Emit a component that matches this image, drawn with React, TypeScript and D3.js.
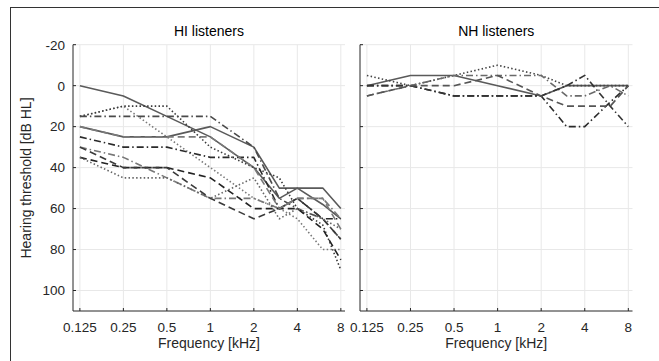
import React from "react";
import * as d3 from "d3";

// Audiometric test frequencies in kHz
const freqs = [0.125, 0.25, 0.5, 1, 2, 3, 4, 6, 8];
const freqTicks = [0.125, 0.25, 0.5, 1, 2, 4, 8];
const freqTickLabels = ["0.125", "0.25", "0.5", "1", "2", "4", "8"];
const dbTicks = [-20, 0, 20, 40, 60, 80, 100];

// Hearing-impaired listeners: thresholds in dB HL per frequency
const hiSolidA = [0, 5, 15, 25, 40, 55, 50, 58, 65];
const hiSolidB = [20, 25, 25, 20, 30, 50, 50, 50, 60];
const hiDotLight = [15, 10, 25, 40, 55, 60, 65, 80, 80];
const hiDotDark = [15, 10, 10, 30, 40, 45, 60, 68, 90];
const hiDashDotA = [15, 15, 15, 15, 30, 55, 60, 65, 75];
const hiDashDotB = [25, 30, 30, 35, 35, 60, 55, 65, 65];
const hiDashDotGray = [30, 35, 45, 55, 55, 60, 55, 55, 65];
const hiDashA = [35, 40, 40, 45, 60, 60, 60, 70, 85];
const hiDashB = [30, 40, 40, 55, 65, 60, 55, 65, 75];
const hiDotMid = [35, 45, 45, 55, 45, 65, 60, 65, 70];
const hiDashGray = [20, 25, 25, 25, 40, 60, 55, 55, 70];

// Normal-hearing listeners
const nhSolid = [0, -5, -5, 0, 5, 0, 0, 0, 0];
const nhDot = [-5, 0, -5, -10, -5, 0, 0, 0, 0];
const nhDashDotGray = [5, 0, -5, -5, -5, 5, 5, 0, 5];
const nhDashDotA = [0, 0, 5, 5, 5, 20, 20, 8, 0];
const nhDashDotB = [0, 0, 5, 5, 5, 0, -5, 10, 20];
const nhDash = [5, 0, 0, -5, 5, 10, 10, 10, 0];

const DOT = "1.5 2.3";
const DASH = "7 4";
const DASHDOT = "7 3 1.5 3";

type Series = { values: number[]; color: string; dash?: string };

const hiSeries: Series[] = [
  { values: hiSolidA, color: "#5a5a5a" },
  { values: hiSolidB, color: "#5a5a5a" },
  { values: hiDotLight, color: "#7a7a7a", dash: DOT },
  { values: hiDotDark, color: "#3a3a3a", dash: DOT },
  { values: hiDashDotA, color: "#4a4a4a", dash: DASHDOT },
  { values: hiDashDotB, color: "#2a2a2a", dash: DASHDOT },
  { values: hiDashDotGray, color: "#777777", dash: DASHDOT },
  { values: hiDashA, color: "#222222", dash: DASH },
  { values: hiDashB, color: "#3a3a3a", dash: DASH },
  { values: hiDotMid, color: "#666666", dash: DOT },
  { values: hiDashGray, color: "#7a7a7a", dash: DASH },
];

const nhSeries: Series[] = [
  { values: nhSolid, color: "#5a5a5a" },
  { values: nhDot, color: "#444444", dash: DOT },
  { values: nhDashDotGray, color: "#6a6a6a", dash: DASHDOT },
  { values: nhDashDotA, color: "#2a2a2a", dash: DASHDOT },
  { values: nhDashDotB, color: "#333333", dash: DASHDOT },
  { values: nhDash, color: "#555555", dash: DASH },
];

const W = 659;
const H = 361;
const FONT = "'Liberation Sans', Arial, Helvetica, sans-serif";
const TEXT = "#262626";

const yScale = d3.scaleLinear().domain([-20, 110]).range([44.7, 311]);

function Panel({
  x0,
  x1,
  title,
  series,
  showYLabels,
}: {
  x0: number;
  x1: number;
  title: string;
  series: Series[];
  showYLabels: boolean;
}) {
  const xScale = d3.scaleLog().base(2).domain([0.112, 8.55]).range([x0, x1]);
  const [yTop, yBot] = yScale.range();
  const line = d3
    .line<number>()
    .x((_, i) => xScale(freqs[i]))
    .y((v) => yScale(v));
  const cx = (x0 + x1) / 2;
  return (
    <g>
      {/* grid */}
      {freqTicks.map((f) => (
        <line key={"gx" + f} x1={xScale(f)} x2={xScale(f)} y1={yTop} y2={yBot} stroke="#e8e8e8" strokeWidth={1} />
      ))}
      {dbTicks.map((d) => (
        <line key={"gy" + d} x1={x0} x2={x1} y1={yScale(d)} y2={yScale(d)} stroke="#e8e8e8" strokeWidth={1} />
      ))}
      {/* data */}
      {series.map((s, i) => (
        <path
          key={i}
          d={line(s.values) || ""}
          fill="none"
          stroke={s.color}
          strokeWidth={1.6}
          strokeDasharray={s.dash}
          strokeLinejoin="round"
        />
      ))}
      {/* axes */}
      <line x1={x0} x2={x0} y1={yTop} y2={yBot} stroke="#262626" strokeWidth={1} />
      <line x1={x0} x2={x1} y1={yBot} y2={yBot} stroke="#262626" strokeWidth={1} />
      {dbTicks.map((d) => (
        <line key={"ty" + d} x1={x0} x2={x0 + 3} y1={yScale(d)} y2={yScale(d)} stroke="#262626" strokeWidth={1} />
      ))}
      {freqTicks.map((f) => (
        <line key={"tx" + f} x1={xScale(f)} x2={xScale(f)} y1={yBot} y2={yBot - 3} stroke="#262626" strokeWidth={1} />
      ))}
      {showYLabels &&
        dbTicks.map((d) => (
          <text key={"ly" + d} x={x0 - 8} y={yScale(d)} dy="0.36em" textAnchor="end" fontSize={13.5} fill={TEXT} fontFamily={FONT}>
            {d}
          </text>
        ))}
      {freqTicks.map((f, i) => (
        <text key={"lx" + f} x={xScale(f)} y={332} textAnchor="middle" fontSize={13.5} fill={TEXT} fontFamily={FONT}>
          {freqTickLabels[i]}
        </text>
      ))}
      <text x={cx} y={348} textAnchor="middle" fontSize={14} fill={TEXT} fontFamily={FONT}>
        Frequency [kHz]
      </text>
      <text x={cx} y={36} textAnchor="middle" fontSize={14} fill="#000" fontFamily={FONT}>
        {title}
      </text>
    </g>
  );
}

export default function App() {
  return (
    <div style={{ position: "fixed", left: 0, top: 0 }}>
      <svg width={W} height={H} viewBox={`0 0 ${W} ${H}`} style={{ display: "block", background: "#fff" }}>
        <rect width={W} height={H} fill="#fff" />
        <line x1={10} x2={W} y1={7.5} y2={7.5} stroke="#333" strokeWidth={1} />
        <line x1={10.5} x2={10.5} y1={7} y2={H} stroke="#333" strokeWidth={1} />
        <Panel x0={73} x1={345} title="HI listeners" series={hiSeries} showYLabels={true} />
        <Panel x0={360} x1={632.5} title="NH listeners" series={nhSeries} showYLabels={false} />
        <text
          transform="translate(31,178) rotate(-90)"
          textAnchor="middle"
          fontSize={14}
          fill={TEXT}
          fontFamily={FONT}
        >
          Hearing threshold [dB HL]
        </text>
      </svg>
    </div>
  );
}
